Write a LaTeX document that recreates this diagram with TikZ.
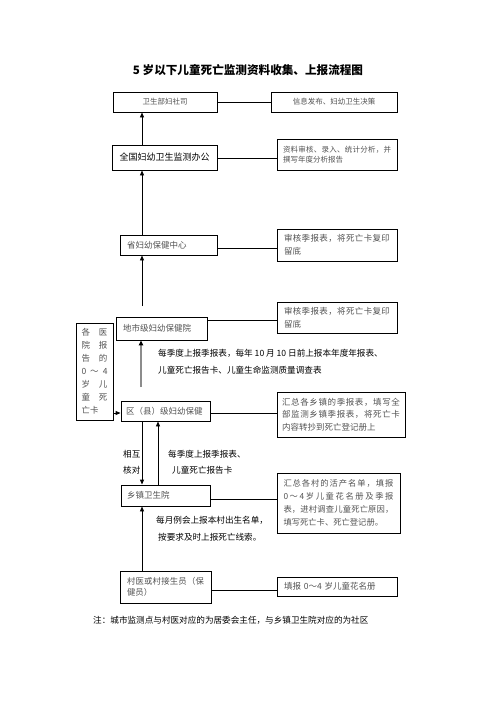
\documentclass[tikz,border=0pt]{standalone}
\usepackage{fontspec}
\setmainfont{Noto Sans CJK SC}
\usetikzlibrary{arrows.meta}
\definecolor{boxtext}{gray}{0.32}
\definecolor{shaft}{gray}{0.55}
\def\jl#1{\hbox to \hsize{\jlA#1\relax}}
\def\jlA#1{#1\jlB}
\def\jlB#1{\ifx#1\relax\else\hfil#1\expandafter\jlB\fi}
\def\ll#1{\hbox to \hsize{#1\hfil}}
\def\stack#1{\vbox{#1}}
\tikzset{
  bx/.style={draw=black, line width=0.9pt, inner ysep=0pt, inner xsep=#1, align=left, text=boxtext},
  bx/.default=7pt,
  cbx/.style={draw=black, line width=0.9pt, inner sep=0pt, align=center, text=boxtext},
  lnk/.style={line width=0.9pt},
  arr/.style={line width=0.9pt, -{Triangle[length=5pt,width=4pt]}},
  grayarr/.style={line width=2.2pt, draw=shaft, -{Triangle[length=5pt,width=4.5pt,color=black]}},
  note/.style={anchor=west, inner sep=0pt, font=\fontsize{8.6}{10}\selectfont},
}
\begin{document}
\begin{tikzpicture}[x=1pt,y=-1pt]
\useasboundingbox (0,0) rectangle (496,702);
% title
\node[font=\fontsize{11.6}{14}\selectfont\bfseries] (title) at (248,70) {5 岁以下儿童死亡监测资料收集、上报流程图};
% boxes
\node[cbx, minimum width=104pt, minimum height=20pt, font=\fontsize{7.5}{9}\selectfont] (A) at (165,102) {卫生部妇社司};
\node[cbx, minimum width=126pt, minimum height=20pt, font=\fontsize{7.5}{9}\selectfont] (B) at (334,102) {信息发布、妇幼卫生决策};
\node[cbx, minimum width=105pt, minimum height=25pt, text=black, font=\fontsize{9}{11}\selectfont] (C) at (164.5,157.5) {全国妇幼卫生监测办公};
\node[bx=6pt, text width=108pt, minimum height=31pt, font=\fontsize{7.5}{10.5}\selectfont] (D) at (337,154.5) {\stack{\jl{资料审核、录入、统计分析，并}\ll{撰写年度分析报告}}};
\node[bx, text width=83pt, minimum height=20pt, font=\fontsize{8.5}{10}\selectfont] (E) at (168.5,245) {\stack{\ll{省妇幼保健中心}}};
\node[bx, text width=106pt, minimum height=32pt, font=\fontsize{8.5}{13}\selectfont] (F) at (337,245) {\stack{\jl{审核季报表，将死亡卡复印}\ll{留底}}};
\node[bx, text width=77pt, minimum height=23pt, font=\fontsize{8.5}{10}\selectfont] (G) at (161.5,328.5) {\stack{\ll{地市级妇幼保健院}}};
\node[bx, text width=106pt, minimum height=31pt, font=\fontsize{8.5}{13}\selectfont] (H) at (337,317.5) {\stack{\jl{审核季报表，将死亡卡复印}\ll{留底}}};
\node[bx=5.5pt, text width=26pt, minimum height=97pt, font=\fontsize{8.5}{13}\selectfont] (I) at (94.5,371.5) {\stack{\jl{各医}\jl{院报}\jl{告的}\jl{0～4}\jl{岁儿}\jl{童死}\ll{亡卡}}};
\node[bx=5pt, text width=79pt, minimum height=20pt, font=\fontsize{8.5}{10}\selectfont] (J) at (165.5,411) {\stack{\ll{区（县）级妇幼保健}}};
\node[bx=5pt, text width=118pt, minimum height=45pt, font=\fontsize{8.5}{12.5}\selectfont] (K) at (341,414.5) {\stack{\jl{汇总各乡镇的季报表，填写全}\jl{部监测乡镇季报表，将死亡卡}\ll{内容转抄到死亡登记册上}}};
\node[bx=6pt, text width=77pt, minimum height=21pt, font=\fontsize{8.5}{10}\selectfont] (L) at (165.5,495.5) {\stack{\ll{乡镇卫生院}}};
\node[bx=6.5pt, text width=110pt, minimum height=60pt, font=\fontsize{8.3}{13}\selectfont] (M) at (338.5,503) {\stack{\jl{汇总各村的活产名单，填报}\jl{0～4 岁儿童花名册及季报}\jl{表，进村调查儿童死亡原因，}\ll{填写死亡卡、死亡登记册。}}};
\node[bx, text width=77pt, minimum height=32pt, font=\fontsize{8.4}{11}\selectfont] (N) at (165.5,587) {\stack{\jl{村医或村接生员（保}\ll{健员）}}};
\node[bx, text width=106pt, minimum height=19pt, font=\fontsize{8.5}{10}\selectfont] (O) at (337,586.5) {\stack{\ll{填报 0～4 岁儿童花名册}}};
% helper coordinates
\coordinate (colx) at (142,0);
\coordinate (colr) at (158,0);
\coordinate (gtop) at (142,306);
\coordinate (gbot) at (141,387);
% horizontal links
\draw[lnk] (A) -- (B);
\draw[lnk] ([yshift=-0.5pt]C.east) -- ([yshift=-0.5pt]C.east -| D.west);
\draw[lnk] ([yshift=-3pt]E.east) -- ([yshift=-3pt]E.east -| F.west);
\draw[lnk] ([yshift=8pt]G.east) -- ([yshift=8pt]G.east -| H.west);
\draw[lnk] ([yshift=-2pt]J.east) -- ([yshift=-2pt]J.east -| K.west);
\draw[lnk] ([yshift=-4pt]L.east) -- ([yshift=-4pt]L.east -| M.west);
\draw[lnk] ([yshift=-3pt]N.east) -- ([yshift=-3pt]N.east -| O.west);
% arrows
\draw[arr] (C.north -| colx) -- (A.south -| colx);
\draw[arr] (E.north -| colx) -- (C.south -| colx);
\draw[arr] (gtop) -- (E.south -| gtop);
\draw[grayarr] (gbot) -- (G.south -| gbot);
\draw[arr] ([yshift=-2pt]J.west -| I.east) -- ([yshift=-2pt]J.west);
\draw[arr] (J.south -| colx) -- (L.north -| colx);
\draw[arr] (L.north -| colr) -- (J.south -| colr);
\draw[arr] (N.north -| colx) -- (L.south -| colx);
% annotations
\node[note] (t1) at (158,353) {每季度上报季报表，每年 10 月 10 日前上报本年度年报表、};
\node[note] (t2) at (158,370) {儿童死亡报告卡、儿童生命监测质量调查表};
\node[note] (t3) at (123,454) {相互};
\node[note] (t4) at (123,470) {核对};
\node[note] (t5) at (168,454) {每季度上报季报表、};
\node[note] (t6) at (172,470) {儿童死亡报告卡};
\node[note] (t7) at (156,520) {每月例会上报本村出生名单，};
\node[note] (t8) at (158,537) {按要求及时上报死亡线索。};
\node[note] (t9) at (93,620) {注：城市监测点与村医对应的为居委会主任，与乡镇卫生院对应的为社区};
\end{tikzpicture}
\end{document}
